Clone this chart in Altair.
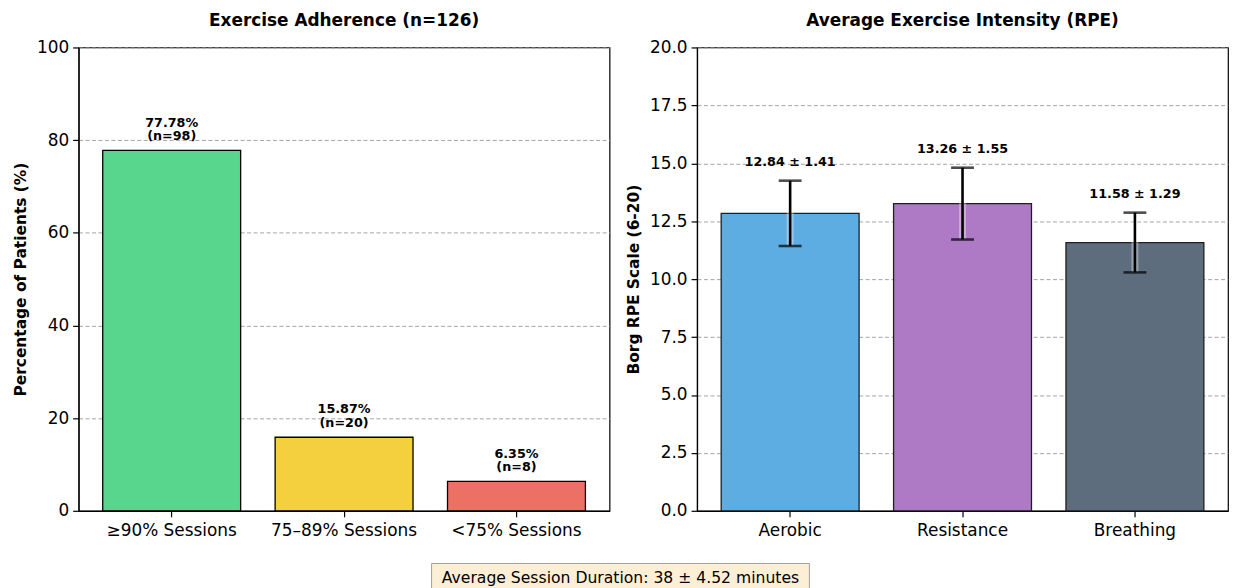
import altair as alt
import pandas as pd

# ---- data ----
adh_categories = ["≥90% Sessions", "75–89% Sessions", "<75% Sessions"]
adh_pct = [77.78, 15.87, 6.35]
adh_n = [98, 20, 8]
adh_colors = ["#58D68D", "#F4D03F", "#EC7063"]

rpe_types = ["Aerobic", "Resistance", "Breathing"]
rpe_mean = [12.84, 13.26, 11.58]
rpe_sd = [1.41, 1.55, 1.29]
rpe_colors = ["#5DADE2", "#AF7AC5", "#5D6D7E"]

duration_mean = 38
duration_sd = 4.52

adh_ticks = [0, 20, 40, 60, 80, 100]
rpe_ticks = [0, 2.5, 5, 7.5, 10, 12.5, 15, 17.5, 20]

# ---- tables ----
df1 = pd.DataFrame({"cat": adh_categories, "pct": adh_pct, "n": adh_n, "color": adh_colors})
df1["label"] = [f"{p:.2f}%\n(n={n})" for p, n in zip(adh_pct, adh_n)]
df1["labpos"] = df1["pct"] + 1.5

df2 = pd.DataFrame({"cat": rpe_types, "mean": rpe_mean, "sd": rpe_sd, "color": rpe_colors})
df2["lo"] = df2["mean"] - df2["sd"]
df2["hi"] = df2["mean"] + df2["sd"]
df2["label"] = [f"{m:.2f} ± {s:.2f}" for m, s in zip(rpe_mean, rpe_sd)]
df2["labpos"] = df2["hi"] + 0.5

W, H = 534, 466
band = alt.Scale(paddingInner=0.2, paddingOuter=0.14)
view_style = alt.ViewBackground(stroke="black", strokeWidth=1.2)

# ---- left panel ----
x1 = alt.X("cat:N", sort=adh_categories, title=None, scale=band,
           axis=alt.Axis(labelAngle=0, labelPadding=6))
def y1(field):
    return alt.Y(f"{field}:Q", scale=alt.Scale(domain=[0, 100], nice=False),
                 title="Percentage of Patients (%)",
                 axis=alt.Axis(values=adh_ticks, grid=True))

bars1 = alt.Chart(df1).mark_bar(stroke="black", strokeWidth=1.3).encode(
    x=x1, y=y1("pct"), color=alt.Color("color:N", scale=None))
text1 = alt.Chart(df1).mark_text(baseline="bottom", lineBreak="\n", fontWeight="bold",
                                 fontSize=12.8, lineHeight=14, dy=-14, color="black").encode(
    x=x1, y=y1("labpos"), text="label:N")
left = alt.layer(bars1, text1).properties(
    width=W, height=H, title="Exercise Adherence (n=126)", view=view_style)

# ---- right panel ----
x2 = alt.X("cat:N", sort=rpe_types, title=None, scale=band,
           axis=alt.Axis(labelAngle=0, labelPadding=6))
def y2(field):
    return alt.Y(f"{field}:Q", scale=alt.Scale(domain=[0, 20], nice=False),
                 title="Borg RPE Scale (6-20)",
                 axis=alt.Axis(values=rpe_ticks, format=".1f", grid=True))

bars2 = alt.Chart(df2).mark_bar(stroke="#1f1f1f", strokeWidth=1.3).encode(
    x=x2, y=y2("mean"), color=alt.Color("color:N", scale=None))
glow = alt.Chart(df2).mark_rule(color="white", strokeWidth=7, opacity=0.35).encode(
    x=x2, y=y2("lo"), y2="hi:Q")
err = alt.Chart(df2).mark_rule(color="black", strokeWidth=2.6).encode(
    x=x2, y=y2("lo"), y2="hi:Q")
cap_lo = alt.Chart(df2).mark_tick(color="black", size=23, thickness=2.6).encode(
    x=x2, y=y2("lo"))
cap_hi = alt.Chart(df2).mark_tick(color="black", size=23, thickness=2.6).encode(
    x=x2, y=y2("hi"))
text2 = alt.Chart(df2).mark_text(baseline="bottom", fontWeight="bold", fontSize=12.8,
                                 color="black").encode(
    x=x2, y=y2("labpos"), text="label:N")
right = alt.layer(bars2, glow, err, cap_lo, cap_hi, text2).properties(
    width=W, height=H, title="Average Exercise Intensity (RPE)", view=view_style)

# ---- footer ----
footer_df = pd.DataFrame({"t": [f"Average Session Duration: {duration_mean} ± {duration_sd} minutes"]})
FW, FH = 740, 30
BX0, BX1 = 355, 735
box = alt.Chart(footer_df).mark_rect(fill="#FCEFD6", stroke="#A0A0A0", strokeWidth=1).encode(
    x=alt.value(BX0), x2=alt.value(BX1), y=alt.value(0), y2=alt.value(FH))
ftxt = alt.Chart(footer_df).mark_text(fontSize=15.7, align="center", baseline="middle",
                                      color="black").encode(
    x=alt.value((BX0 + BX1) / 2), y=alt.value(15), text="t:N")
footer = alt.layer(box, ftxt).properties(width=FW, height=FH,
                                         view=alt.ViewBackground(stroke="transparent"))

chart = alt.vconcat(
    alt.hconcat(left, right, spacing=15),
    footer, spacing=23
).properties(
    padding={"left": 4, "top": 1, "right": 0, "bottom": 0}
).configure(
    font="DejaVu Sans"
).configure_axis(
    labelFontSize=17, labelColor="black", labelFont="DejaVu Sans",
    titleFontSize=15.5, titleFontWeight="bold", titleColor="black", titleFont="DejaVu Sans",
    titlePadding=8,
    tickColor="black", tickSize=6, tickWidth=1.2, labelPadding=4,
    domainColor="black", domainWidth=1.2,
    gridColor="#999999", gridDash=[4, 2.5], gridWidth=0.9
).configure_title(
    fontSize=17, fontWeight="bold", color="black", font="DejaVu Sans", offset=9
)

chart.save("out.html", embed_options={"renderer": "svg", "actions": False})
